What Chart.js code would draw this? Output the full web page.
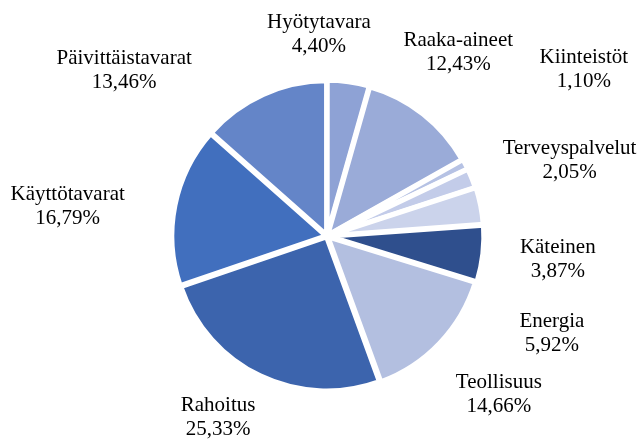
<!DOCTYPE html>
<html>
<head>
<meta charset="utf-8">
<script src="https://cdn.jsdelivr.net/npm/chart.js@4"></script>
<style>
  html, body { margin: 0; padding: 0; background: #fff; }
  #wrap { width: 641px; height: 439px; }
</style>
</head>
<body>
<div id="wrap"><canvas id="pieChart" width="641" height="439"></canvas></div>
<script>
const sectors = [
  "Hyötytavara", "Raaka-aineet", "Kiinteistöt", "Terveyspalvelut", "Käteinen",
  "Energia", "Teollisuus", "Rahoitus", "Käyttötavarat", "Päivittäistavarat"
];
const shares = [4.40, 12.43, 1.10, 2.05, 3.87, 5.92, 14.66, 25.33, 16.79, 13.46];

const sliceColors = [
  "#8ea2d5", "#9aabd8", "#b6c2e4", "#c3cce9", "#cbd3eb",
  "#2f4f8d", "#b3bfe0", "#3c64ad", "#416fbe", "#6485c8"
];
const sliceOffsets = [4, 4, 4, 4, 6, 7, 5, 4, 4, 4];

// label placement: angle shift from slice middle (deg), distance from centre (px)
const labelAngleShift = [-10.2, -2.7, -5.5, 4.5, 17.0, 16.9, -0.8, 5.4, -4.8, -26.5];
const labelDistance = [202, 226, 306, 254, 232, 245, 234, 212, 261, 262];

function pct(v) {
  return v.toFixed(2).replace(".", ",") + "%";
}

const sliceLabels = {
  id: "sliceLabels",
  afterDatasetsDraw(chart) {
    const ctx = chart.ctx;
    const meta = chart.getDatasetMeta(0);
    ctx.save();
    ctx.font = "21px 'Liberation Serif', 'Times New Roman', serif";
    ctx.fillStyle = "#000";
    ctx.textAlign = "center";
    ctx.textBaseline = "middle";
    meta.data.forEach((arc, i) => {
      const { x, y, startAngle, endAngle } = arc.getProps(
        ["x", "y", "startAngle", "endAngle"], true
      );
      const a = (startAngle + endAngle) / 2 + (labelAngleShift[i] * Math.PI) / 180;
      const lx = x + Math.cos(a) * labelDistance[i];
      const ly = y + Math.sin(a) * labelDistance[i];
      ctx.fillText(sectors[i], lx, ly - 12);
      ctx.fillText(pct(shares[i]), lx, ly + 12);
    });
    ctx.restore();
  },
};

new Chart(document.getElementById("pieChart").getContext("2d"), {
  type: "pie",
  data: {
    labels: sectors,
    datasets: [
      {
        data: shares,
        backgroundColor: sliceColors,
        borderColor: "#ffffff",
        borderWidth: 5,
        offset: sliceOffsets,
      },
    ],
  },
  options: {
    responsive: false,
    animation: false,
    radius: 154,
    layout: {
      padding: { left: 13, right: 0, top: 33, bottom: 0 },
    },
    plugins: {
      legend: { display: false },
      tooltip: { enabled: false },
    },
  },
  plugins: [sliceLabels],
});
</script>
</body>
</html>
